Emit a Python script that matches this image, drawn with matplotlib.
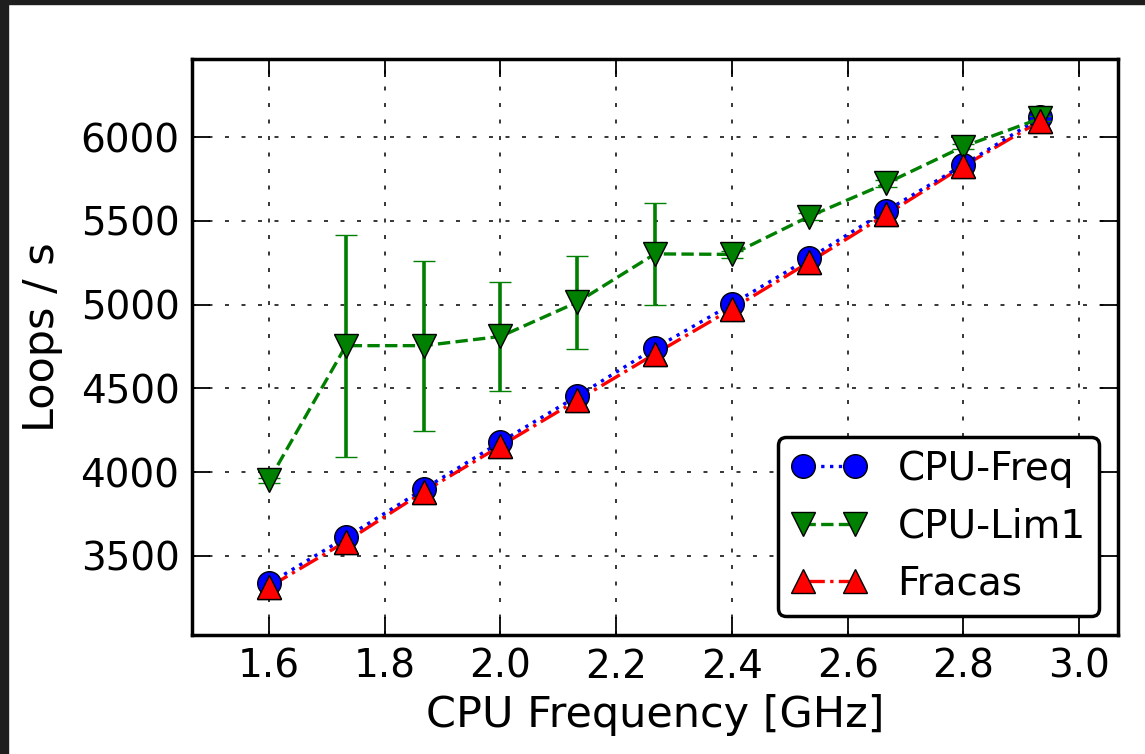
import matplotlib
matplotlib.use('Agg')
import matplotlib.pyplot as plt
from matplotlib.patches import Rectangle

# CPU frequency steps [GHz]
freq = [1.6, 1.733, 1.867, 2.0, 2.133, 2.267, 2.4, 2.533, 2.667, 2.8, 2.933]

cpu_freq = [3335, 3610, 3898, 4180, 4454, 4740, 5003, 5276, 5562, 5835, 6118]
cpu_lim1 = [3950, 4755, 4755, 4810, 5015, 5303, 5300, 5526, 5725, 5944, 6112]
cpu_lim1_err = [15, 663, 508, 328, 278, 303, 20, 20, 20, 15, 15]
fracas = [3314, 3585, 3882, 4156, 4430, 4706, 4975, 5253, 5539, 5827, 6097]

fs = 28
lw = 2.4

fig = plt.figure(figsize=(11.45, 7.54), dpi=100)
ax = fig.add_axes([0.1677, 0.1578, 0.8087, 0.7640])

l1, = ax.plot(freq, cpu_freq, 'o:', color='b', lw=lw, ms=17, mec='k', mew=1,
              label='CPU-Freq', zorder=3)
eb = ax.errorbar(freq, cpu_lim1, yerr=cpu_lim1_err, fmt='v--', color='g', lw=lw,
                 ms=17, mec='k', mew=1, ecolor='g', elinewidth=2.6, capsize=8,
                 capthick=2, label='CPU-Lim1', zorder=3)
# red line goes under the blue dots, red markers on top
l3, = ax.plot(freq, fracas, '^-.', color='r', lw=lw, ms=17, mec='k', mew=1,
              label='Fracas', zorder=2.5)
ax.plot(freq, fracas, '^', color='r', ms=17, mec='k', mew=1, zorder=4)

ax.set_xlim(1.467, 3.067)
ax.set_ylim(3027, 6467)
ax.set_xticks([1.6, 1.8, 2.0, 2.2, 2.4, 2.6, 2.8, 3.0])
ax.set_yticks([3500, 4000, 4500, 5000, 5500, 6000])

ax.grid(True, color='k', linestyle=(0, (2.6, 8.2)), linewidth=1.1)
ax.tick_params(direction='in', length=13, width=1.3, top=True, right=True,
               labelsize=fs, pad=9)
for s in ax.spines.values():
    s.set_linewidth(2.5)

ax.set_xlabel('CPU Frequency [GHz]', fontsize=31, labelpad=6)
ax.set_ylabel('Loops / s', fontsize=31)
ax.yaxis.set_label_coords(-0.139, 0.517)

leg = ax.legend([l1, eb[0], l3], ['CPU-Freq', 'CPU-Lim1', 'Fracas'],
                loc='lower right', numpoints=2, fontsize=fs, fancybox=True,
                framealpha=1, edgecolor='k', borderaxespad=0.5, borderpad=0.33,
                handlelength=1.96, handletextpad=0.78, labelspacing=0.5)
leg.get_frame().set_linewidth(2.5)

# dark screenshot border at top and left
fig.patches.append(Rectangle((0, 1 - 4 / 754), 1, 4 / 754, transform=fig.transFigure,
                             color='#1e1e1e', zorder=10))
fig.patches.append(Rectangle((0, 0), 8 / 1145, 1, transform=fig.transFigure,
                             color='#1e1e1e', zorder=10))

fig.savefig('out.png', dpi=100)
